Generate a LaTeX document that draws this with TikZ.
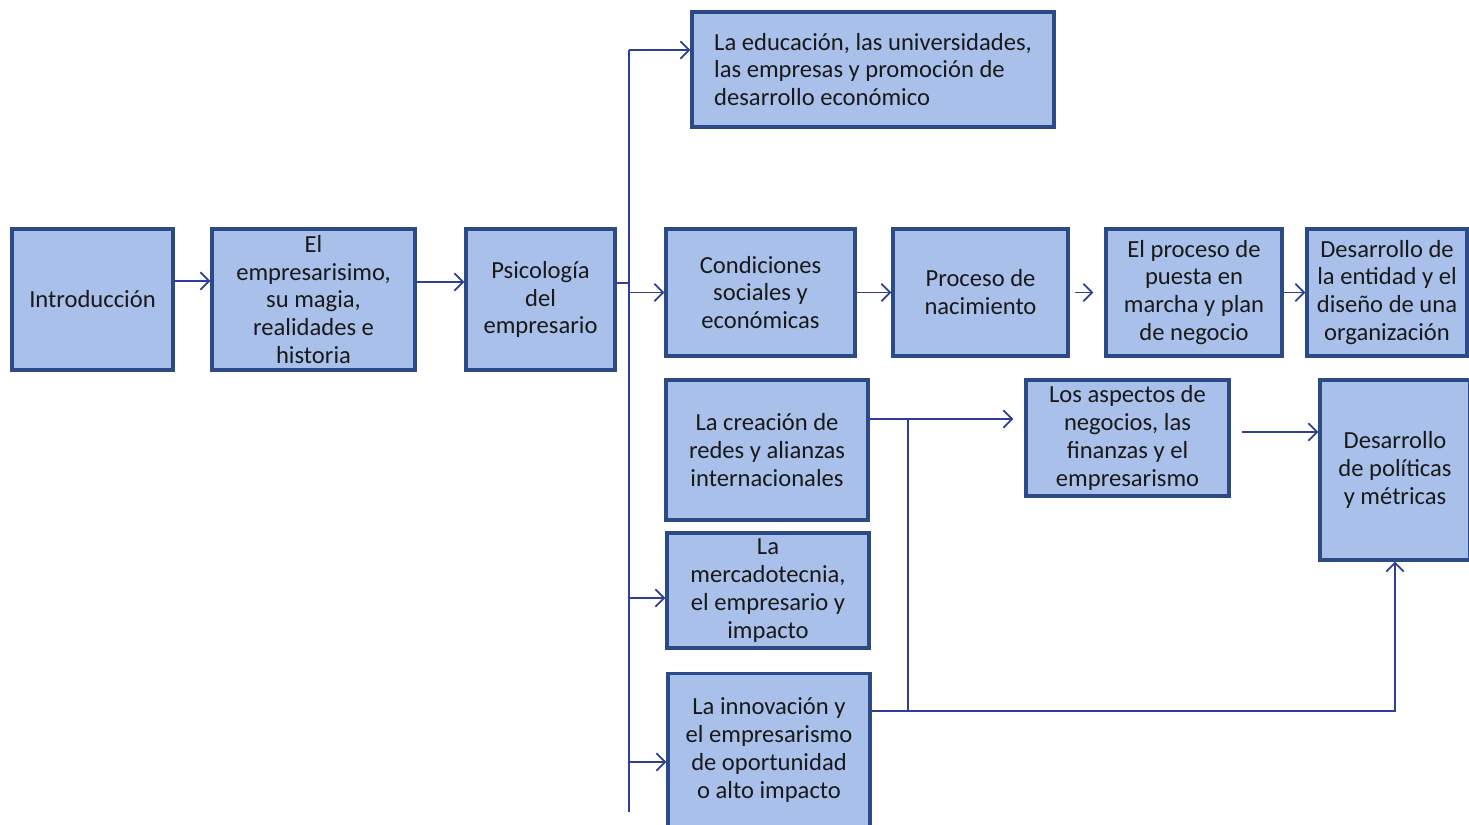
\documentclass[tikz,border=0pt]{standalone}
\usepackage{fontspec}
\setmainfont{Carlito}
\usepackage{tikz}
\usetikzlibrary{positioning}
\usetikzlibrary{calc}
\usetikzlibrary{arrows.meta}
\definecolor{boxfill}{HTML}{A9C0EA}
\definecolor{boxline}{HTML}{2C4A85}
\definecolor{linecol}{HTML}{2E3F95}
\colorlet{textcol}{black!90}
\tikzset{
  topic/.style={draw=boxline, line width=1.8pt, fill=boxfill, align=center,
    inner sep=2pt, text=textcol, font=\fontsize{14}{15.9}\selectfont},
  line/.style={draw=linecol, line width=1pt},
  link/.style={line, -{Straight Barb[length=5pt,width=10pt]}},
}

\begin{document}
\begin{tikzpicture}[x=0.02cm, y=-0.02cm]

\useasboundingbox (0,0) rectangle (1469,824);

% First row
\node[topic, minimum width=3.22cm, minimum height=2.82cm] (intro) at (92.5,299.5) {Introducción};
\node[topic, minimum width=4.06cm, minimum height=2.82cm] (empre) at (313.5,299.5)
  {El\\ empresarisimo,\\ su magia,\\ realidades e\\ historia};
\node[topic, minimum width=2.98cm, minimum height=2.82cm] (psico) at (540.5,299.5)
  {Psicología\\ del\\ empresario};

% Branches
\node[topic, minimum width=7.24cm, minimum height=2.30cm, align=left] (educ) at (873,69.5)
  {La educación, las universidades,\\ las empresas y promoción de\\ desarrollo económico};
\node[topic, minimum width=3.78cm, minimum height=2.54cm] (cond) at (760.5,292.5)
  {Condiciones\\ sociales y\\ económicas};
\node[topic, minimum width=3.50cm, minimum height=2.54cm] (nacim) at (980.5,292.5)
  {Proceso de\\ nacimiento};
\node[topic, minimum width=3.52cm, minimum height=2.54cm] (puesta) at (1194,292.5)
  {El proceso de\\ puesta en\\ marcha y plan\\ de negocio};
\node[topic, minimum width=3.20cm, minimum height=2.54cm] (entidad) at (1387,292.5)
  {Desarrollo de\\ la entidad y el\\ diseño de una\\ organización};
\node[topic, minimum width=4.04cm, minimum height=2.80cm] (redes) at (767,450)
  {La creación de\\ redes y alianzas\\ internacionales};
\node[topic, minimum width=4.04cm, minimum height=2.30cm] (merca) at (768,590.5)
  {La\\ mercadotecnia,\\ el empresario y\\ impacto};
\node[topic, minimum width=4.04cm, minimum height=3.06cm] (innov) at (769,750)
  {La innovación y\\ el empresarismo\\ de oportunidad\\ o alto impacto};
\node[topic, minimum width=4.06cm, minimum height=2.32cm] (aspectos) at (1127.5,438)
  {Los aspectos de\\ negocios, las\\ finanzas y el\\ empresarismo};
\node[topic, minimum width=3.00cm, minimum height=3.60cm] (politicas) at (1395,470)
  {Desarrollo\\ de políticas\\ y métricas};

% Trunk and split points
\coordinate (trunk) at (629,50);
\coordinate (trunkend) at (629,812);
\coordinate (split) at (908,419);

% Connectors
\draw[link] (intro.east |- 0,281) -- (empre.west |- 0,281);
\draw[link] (empre.east |- 0,282) -- (psico.west |- 0,282);
\draw[line] (psico.east |- 0,283) -- (trunk |- 0,283);
\draw[line] (trunk) -- (trunkend);
\draw[link] (trunk) -- (educ.west |- trunk);
\draw[link] (trunk |- cond.west) -- (cond.west);
\draw[link] (trunk |- 0,598) -- (merca.west |- 0,598);
\draw[link] (trunk |- 0,762) -- (innov.west |- 0,762);

\draw[link] (cond.east) -- (nacim.west);
\draw[link, shorten <=0.1cm, shorten >=0.22cm] (nacim.east) -- (puesta.west);
\draw[link] (puesta.east) -- (entidad.west);

\draw[link, shorten >=0.22cm] (redes.east |- split) -- (aspectos.west |- split);
\draw[line] (split) -- (split |- 0,711);
\draw[link] (innov.east |- 0,711) -| (politicas.south);
\draw[link, shorten <=0.22cm] (aspectos.east |- 0,432) -- (politicas.west |- 0,432);

\end{tikzpicture}
\end{document}
